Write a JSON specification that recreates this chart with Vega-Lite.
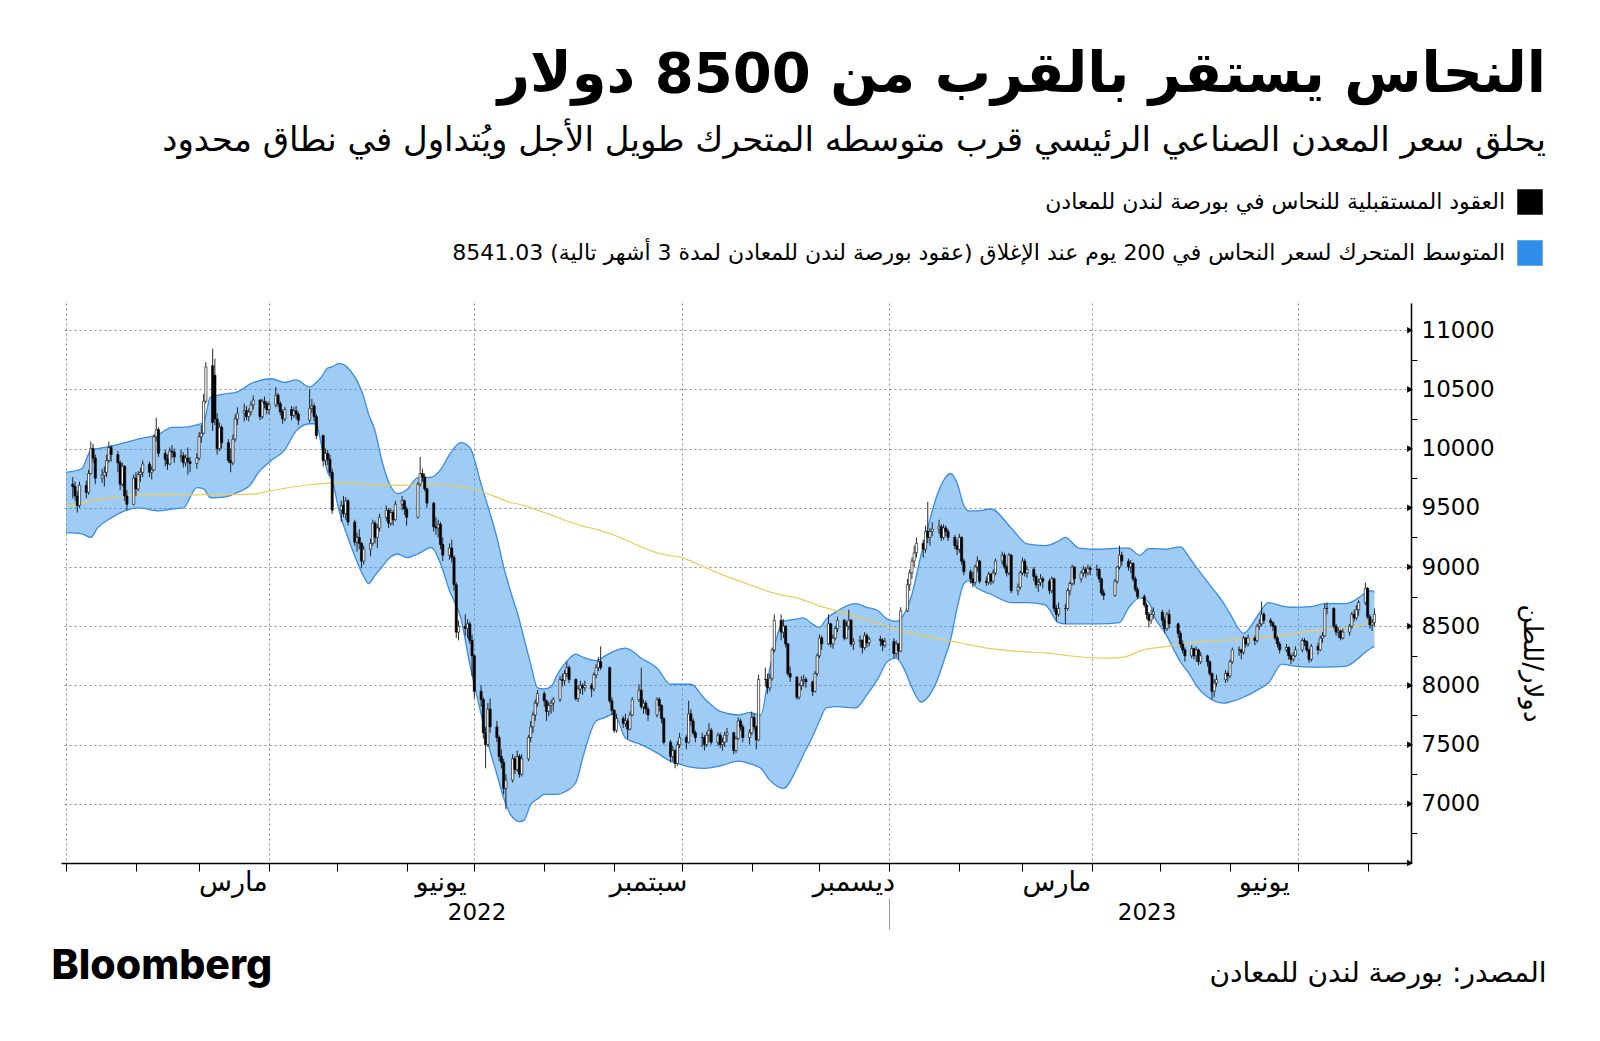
{
"$schema": "https://vega.github.io/schema/vega-lite/v6.json",
"width": 1350, "height": 560,
"autosize": {"type": "none"},
"padding": {"left": 61, "top": 303, "right": 189, "bottom": 178},
"background": "#ffffff",
"config": {"view": {"stroke": null}, "font": "DejaVu Sans"},
"title": {"text": "النحاس يستقر بالقرب من 8500 دولار", "subtitle": "يحلق سعر المعدن الصناعي الرئيسي قرب متوسطه المتحرك طويل الأجل ويُتداول في نطاق محدود", "anchor": "end", "frame": "group", "dx": 135, "offset": 30, "font": "DejaVu Sans", "fontSize": 56, "fontWeight": "bold", "color": "#000000", "subtitleFont": "DejaVu Sans", "subtitleFontSize": 34, "subtitleColor": "#000000", "subtitlePadding": 20},
"datasets": {
"bb": [
{"d":"2022-01-01","u":9800,"b":9290,"m":9520},
{"d":"2022-01-08","u":9830,"b":9280,"m":9535},
{"d":"2022-01-12","u":9985,"b":9250,"m":9560},
{"d":"2022-01-15","u":10000,"b":9330,"m":9570},
{"d":"2022-01-21","u":10020,"b":9415,"m":9585},
{"d":"2022-01-27","u":10050,"b":9475,"m":9600},
{"d":"2022-02-02","u":10080,"b":9500,"m":9605},
{"d":"2022-02-11","u":10120,"b":9475,"m":9610},
{"d":"2022-02-17","u":10180,"b":9490,"m":9610},
{"d":"2022-02-22","u":10180,"b":9500,"m":9610},
{"d":"2022-02-28","u":10200,"b":9670,"m":9610},
{"d":"2022-03-03","u":10220,"b":9660,"m":9611},
{"d":"2022-03-06","u":10435,"b":9585,"m":9612},
{"d":"2022-03-12","u":10460,"b":9590,"m":9612},
{"d":"2022-03-18","u":10480,"b":9630,"m":9613},
{"d":"2022-03-24","u":10550,"b":9700,"m":9615},
{"d":"2022-03-27","u":10570,"b":9790,"m":9620},
{"d":"2022-04-02","u":10590,"b":9900,"m":9645},
{"d":"2022-04-08","u":10560,"b":9990,"m":9665},
{"d":"2022-04-13","u":10580,"b":10150,"m":9680},
{"d":"2022-04-19","u":10520,"b":10210,"m":9695},
{"d":"2022-04-22","u":10560,"b":10210,"m":9700},
{"d":"2022-04-24","u":10600,"b":10050,"m":9705},
{"d":"2022-04-27","u":10680,"b":9800,"m":9708},
{"d":"2022-04-29","u":10690,"b":9730,"m":9710},
{"d":"2022-05-02","u":10720,"b":9480,"m":9710},
{"d":"2022-05-07","u":10660,"b":9195,"m":9706},
{"d":"2022-05-13","u":10435,"b":8920,"m":9700},
{"d":"2022-05-15","u":10300,"b":8860,"m":9698},
{"d":"2022-05-18","u":10150,"b":8930,"m":9696},
{"d":"2022-05-21","u":9900,"b":9000,"m":9694},
{"d":"2022-05-24","u":9720,"b":9070,"m":9692},
{"d":"2022-05-28","u":9620,"b":9110,"m":9690},
{"d":"2022-06-01","u":9650,"b":9080,"m":9692},
{"d":"2022-06-06","u":9755,"b":9110,"m":9696},
{"d":"2022-06-12","u":9760,"b":9165,"m":9700},
{"d":"2022-06-16","u":9820,"b":9030,"m":9695},
{"d":"2022-06-20","u":9950,"b":8800,"m":9688},
{"d":"2022-06-25","u":10050,"b":8570,"m":9678},
{"d":"2022-06-29","u":10010,"b":8180,"m":9665},
{"d":"2022-07-04","u":9700,"b":7760,"m":9640},
{"d":"2022-07-08","u":9450,"b":7445,"m":9610},
{"d":"2022-07-11","u":9250,"b":7250,"m":9590},
{"d":"2022-07-14","u":9000,"b":7050,"m":9565},
{"d":"2022-07-17","u":8800,"b":6910,"m":9545},
{"d":"2022-07-21","u":8550,"b":6850,"m":9530},
{"d":"2022-07-23","u":8400,"b":6860,"m":9520},
{"d":"2022-07-26","u":8180,"b":6995,"m":9500},
{"d":"2022-07-29","u":7980,"b":7040,"m":9480},
{"d":"2022-08-01","u":7970,"b":7080,"m":9460},
{"d":"2022-08-04","u":7990,"b":7080,"m":9440},
{"d":"2022-08-07","u":8100,"b":7080,"m":9420},
{"d":"2022-08-10","u":8180,"b":7100,"m":9395},
{"d":"2022-08-15","u":8265,"b":7180,"m":9365},
{"d":"2022-08-18","u":8240,"b":7385,"m":9345},
{"d":"2022-08-24","u":8210,"b":7700,"m":9320},
{"d":"2022-08-28","u":8250,"b":7730,"m":9295},
{"d":"2022-09-01","u":8290,"b":7760,"m":9270},
{"d":"2022-09-06","u":8315,"b":7555,"m":9230},
{"d":"2022-09-13","u":8230,"b":7500,"m":9170},
{"d":"2022-09-20","u":8145,"b":7430,"m":9120},
{"d":"2022-09-26","u":8010,"b":7360,"m":9095},
{"d":"2022-10-01","u":8010,"b":7330,"m":9080},
{"d":"2022-10-05","u":8010,"b":7310,"m":9050},
{"d":"2022-10-11","u":7890,"b":7300,"m":9000},
{"d":"2022-10-18","u":7780,"b":7320,"m":8940},
{"d":"2022-10-26","u":7750,"b":7360,"m":8885},
{"d":"2022-10-31","u":7770,"b":7340,"m":8850},
{"d":"2022-11-05","u":7750,"b":7300,"m":8815},
{"d":"2022-11-09","u":8145,"b":7200,"m":8790},
{"d":"2022-11-15","u":8540,"b":7130,"m":8760},
{"d":"2022-11-21","u":8560,"b":7300,"m":8740},
{"d":"2022-11-24","u":8570,"b":7420,"m":8720},
{"d":"2022-11-27","u":8530,"b":7530,"m":8700},
{"d":"2022-12-01","u":8490,"b":7700,"m":8670},
{"d":"2022-12-04","u":8560,"b":7810,"m":8655},
{"d":"2022-12-09","u":8630,"b":7820,"m":8630},
{"d":"2022-12-17","u":8690,"b":7810,"m":8580},
{"d":"2022-12-22","u":8660,"b":7920,"m":8550},
{"d":"2022-12-27","u":8630,"b":8060,"m":8525},
{"d":"2022-12-31","u":8560,"b":8200,"m":8500},
{"d":"2023-01-04","u":8540,"b":8230,"m":8470},
{"d":"2023-01-08","u":8620,"b":8120,"m":8450},
{"d":"2023-01-11","u":8770,"b":7980,"m":8440},
{"d":"2023-01-15","u":9100,"b":7860,"m":8425},
{"d":"2023-01-18","u":9330,"b":7900,"m":8410},
{"d":"2023-01-22","u":9600,"b":8035,"m":8395},
{"d":"2023-01-25","u":9730,"b":8200,"m":8385},
{"d":"2023-01-28","u":9790,"b":8375,"m":8375},
{"d":"2023-01-31","u":9710,"b":8650,"m":8365},
{"d":"2023-02-03","u":9520,"b":8860,"m":8352},
{"d":"2023-02-05","u":9475,"b":8885,"m":8345},
{"d":"2023-02-09","u":9475,"b":8820,"m":8330},
{"d":"2023-02-15","u":9490,"b":8770,"m":8310},
{"d":"2023-02-24","u":9330,"b":8700,"m":8292},
{"d":"2023-03-03","u":9195,"b":8700,"m":8283},
{"d":"2023-03-11","u":9180,"b":8680,"m":8275},
{"d":"2023-03-17","u":9220,"b":8530,"m":8262},
{"d":"2023-03-20","u":9250,"b":8520,"m":8255},
{"d":"2023-03-26","u":9160,"b":8520,"m":8242},
{"d":"2023-04-04","u":9150,"b":8520,"m":8230},
{"d":"2023-04-13","u":9160,"b":8530,"m":8235},
{"d":"2023-04-17","u":9160,"b":8655,"m":8250},
{"d":"2023-04-22","u":9100,"b":8740,"m":8290},
{"d":"2023-04-26","u":9155,"b":8700,"m":8310},
{"d":"2023-04-29","u":9155,"b":8560,"m":8318},
{"d":"2023-05-03","u":9150,"b":8450,"m":8325},
{"d":"2023-05-10","u":9170,"b":8200,"m":8350},
{"d":"2023-05-14","u":9080,"b":8095,"m":8358},
{"d":"2023-05-17","u":9000,"b":8000,"m":8365},
{"d":"2023-05-23","u":8850,"b":7890,"m":8372},
{"d":"2023-05-25","u":8800,"b":7870,"m":8375},
{"d":"2023-05-29","u":8700,"b":7850,"m":8380},
{"d":"2023-06-01","u":8605,"b":7860,"m":8384},
{"d":"2023-06-07","u":8440,"b":7900,"m":8388},
{"d":"2023-06-13","u":8580,"b":7960,"m":8398},
{"d":"2023-06-18","u":8700,"b":8020,"m":8410},
{"d":"2023-06-24","u":8670,"b":8180,"m":8422},
{"d":"2023-06-29","u":8660,"b":8165,"m":8435},
{"d":"2023-07-07","u":8665,"b":8155,"m":8460},
{"d":"2023-07-13","u":8690,"b":8155,"m":8470},
{"d":"2023-07-22","u":8690,"b":8160,"m":8485},
{"d":"2023-07-28","u":8740,"b":8230,"m":8505},
{"d":"2023-07-30","u":8770,"b":8265,"m":8515},
{"d":"2023-08-03","u":8800,"b":8320,"m":8535},
{"d":"2023-08-04","u":8785,"b":8330,"m":8541}
],
"px": [
{"d":"2022-01-04","o":9700,"h":9760,"l":9580,"c":9680},
{"d":"2022-01-05","o":9680,"h":9720,"l":9560,"c":9600},
{"d":"2022-01-06","o":9600,"h":9640,"l":9460,"c":9520},
{"d":"2022-01-07","o":9520,"h":9720,"l":9500,"c":9690},
{"d":"2022-01-10","o":9690,"h":9730,"l":9580,"c":9630},
{"d":"2022-01-11","o":9630,"h":9820,"l":9610,"c":9790},
{"d":"2022-01-12","o":9790,"h":10060,"l":9780,"c":10000},
{"d":"2022-01-13","o":10000,"h":10040,"l":9880,"c":9920},
{"d":"2022-01-14","o":9920,"h":9950,"l":9700,"c":9750},
{"d":"2022-01-17","o":9750,"h":9830,"l":9710,"c":9775},
{"d":"2022-01-18","o":9775,"h":9850,"l":9680,"c":9800},
{"d":"2022-01-19","o":9800,"h":9950,"l":9760,"c":9900},
{"d":"2022-01-20","o":9900,"h":10060,"l":9880,"c":10010},
{"d":"2022-01-21","o":10010,"h":10030,"l":9890,"c":9950},
{"d":"2022-01-24","o":9950,"h":9980,"l":9800,"c":9880},
{"d":"2022-01-25","o":9880,"h":9900,"l":9650,"c":9700},
{"d":"2022-01-26","o":9700,"h":9880,"l":9680,"c":9850},
{"d":"2022-01-27","o":9850,"h":9860,"l":9560,"c":9600},
{"d":"2022-01-28","o":9600,"h":9650,"l":9480,"c":9530},
{"d":"2022-01-31","o":9530,"h":9780,"l":9520,"c":9750},
{"d":"2022-02-01","o":9750,"h":9800,"l":9600,"c":9660},
{"d":"2022-02-02","o":9660,"h":9810,"l":9640,"c":9780},
{"d":"2022-02-03","o":9780,"h":9840,"l":9720,"c":9800},
{"d":"2022-02-04","o":9800,"h":9900,"l":9760,"c":9870},
{"d":"2022-02-07","o":9870,"h":9890,"l":9760,"c":9800},
{"d":"2022-02-08","o":9800,"h":9850,"l":9740,"c":9820},
{"d":"2022-02-09","o":9820,"h":10120,"l":9810,"c":10100},
{"d":"2022-02-10","o":10100,"h":10260,"l":10060,"c":10160},
{"d":"2022-02-11","o":10160,"h":10180,"l":9930,"c":9960},
{"d":"2022-02-14","o":9960,"h":9990,"l":9850,"c":9910},
{"d":"2022-02-15","o":9910,"h":9950,"l":9820,"c":9870},
{"d":"2022-02-16","o":9870,"h":10010,"l":9860,"c":9980},
{"d":"2022-02-17","o":9980,"h":10030,"l":9920,"c":9970},
{"d":"2022-02-18","o":9970,"h":10000,"l":9880,"c":9930},
{"d":"2022-02-21","o":9930,"h":9990,"l":9890,"c":9940},
{"d":"2022-02-22","o":9940,"h":9970,"l":9840,"c":9880},
{"d":"2022-02-23","o":9880,"h":9950,"l":9850,"c":9920},
{"d":"2022-02-24","o":9920,"h":10010,"l":9780,"c":9890},
{"d":"2022-02-25","o":9890,"h":9930,"l":9800,"c":9875},
{"d":"2022-02-28","o":9875,"h":9960,"l":9830,"c":9920},
{"d":"2022-03-01","o":9920,"h":10140,"l":9900,"c":10100},
{"d":"2022-03-02","o":10100,"h":10200,"l":10050,"c":10130},
{"d":"2022-03-03","o":10130,"h":10460,"l":10120,"c":10400},
{"d":"2022-03-04","o":10400,"h":10730,"l":10380,"c":10690},
{"d":"2022-03-07","o":10700,"h":10845,"l":10150,"c":10220},
{"d":"2022-03-08","o":10620,"h":10760,"l":10200,"c":10250},
{"d":"2022-03-09","o":10250,"h":10300,"l":9950,"c":10000},
{"d":"2022-03-10","o":10000,"h":10220,"l":9980,"c":10180},
{"d":"2022-03-11","o":10180,"h":10200,"l":10000,"c":10050},
{"d":"2022-03-14","o":10050,"h":10080,"l":9880,"c":9900},
{"d":"2022-03-15","o":9900,"h":10000,"l":9800,"c":9880},
{"d":"2022-03-16","o":9880,"h":10120,"l":9860,"c":10080},
{"d":"2022-03-17","o":10080,"h":10290,"l":10060,"c":10250},
{"d":"2022-03-18","o":10250,"h":10350,"l":10200,"c":10300},
{"d":"2022-03-21","o":10300,"h":10380,"l":10230,"c":10320},
{"d":"2022-03-22","o":10320,"h":10360,"l":10240,"c":10270},
{"d":"2022-03-23","o":10270,"h":10340,"l":10230,"c":10310},
{"d":"2022-03-24","o":10310,"h":10400,"l":10280,"c":10370},
{"d":"2022-03-25","o":10370,"h":10450,"l":10330,"c":10410},
{"d":"2022-03-28","o":10410,"h":10420,"l":10240,"c":10270},
{"d":"2022-03-29","o":10270,"h":10420,"l":10250,"c":10400},
{"d":"2022-03-30","o":10400,"h":10440,"l":10340,"c":10380},
{"d":"2022-03-31","o":10380,"h":10400,"l":10290,"c":10330},
{"d":"2022-04-01","o":10330,"h":10400,"l":10290,"c":10370},
{"d":"2022-04-04","o":10370,"h":10520,"l":10350,"c":10450},
{"d":"2022-04-05","o":10450,"h":10470,"l":10350,"c":10380},
{"d":"2022-04-06","o":10380,"h":10400,"l":10280,"c":10310},
{"d":"2022-04-07","o":10310,"h":10330,"l":10210,"c":10250},
{"d":"2022-04-08","o":10250,"h":10350,"l":10230,"c":10330},
{"d":"2022-04-11","o":10330,"h":10360,"l":10240,"c":10280},
{"d":"2022-04-12","o":10280,"h":10350,"l":10260,"c":10320},
{"d":"2022-04-13","o":10320,"h":10360,"l":10250,"c":10290},
{"d":"2022-04-14","o":10290,"h":10310,"l":10200,"c":10240},
{"d":"2022-04-19","o":10240,"h":10500,"l":10220,"c":10340},
{"d":"2022-04-20","o":10340,"h":10420,"l":10300,"c":10360},
{"d":"2022-04-21","o":10360,"h":10380,"l":10230,"c":10270},
{"d":"2022-04-22","o":10270,"h":10290,"l":10080,"c":10110},
{"d":"2022-04-25","o":10110,"h":10120,"l":9850,"c":9900},
{"d":"2022-04-26","o":9900,"h":10000,"l":9860,"c":9960},
{"d":"2022-04-27","o":9960,"h":9990,"l":9860,"c":9910},
{"d":"2022-04-28","o":9910,"h":9950,"l":9770,"c":9800},
{"d":"2022-04-29","o":9800,"h":9830,"l":9450,"c":9480},
{"d":"2022-05-03","o":9480,"h":9560,"l":9380,"c":9520},
{"d":"2022-05-04","o":9520,"h":9600,"l":9420,"c":9450},
{"d":"2022-05-05","o":9450,"h":9590,"l":9400,"c":9560},
{"d":"2022-05-06","o":9560,"h":9570,"l":9350,"c":9380},
{"d":"2022-05-09","o":9380,"h":9400,"l":9180,"c":9210},
{"d":"2022-05-10","o":9210,"h":9290,"l":9130,"c":9250},
{"d":"2022-05-11","o":9250,"h":9320,"l":9150,"c":9200},
{"d":"2022-05-12","o":9200,"h":9210,"l":8990,"c":9050},
{"d":"2022-05-13","o":9050,"h":9180,"l":9020,"c":9150},
{"d":"2022-05-16","o":9150,"h":9240,"l":9090,"c":9200},
{"d":"2022-05-17","o":9200,"h":9400,"l":9180,"c":9370},
{"d":"2022-05-18","o":9370,"h":9390,"l":9200,"c":9250},
{"d":"2022-05-19","o":9250,"h":9360,"l":9160,"c":9330},
{"d":"2022-05-20","o":9330,"h":9450,"l":9300,"c":9420},
{"d":"2022-05-23","o":9420,"h":9520,"l":9390,"c":9480},
{"d":"2022-05-24","o":9480,"h":9500,"l":9330,"c":9370},
{"d":"2022-05-25","o":9370,"h":9490,"l":9350,"c":9460},
{"d":"2022-05-26","o":9460,"h":9480,"l":9350,"c":9400},
{"d":"2022-05-27","o":9400,"h":9560,"l":9390,"c":9530},
{"d":"2022-05-30","o":9530,"h":9600,"l":9480,"c":9560},
{"d":"2022-05-31","o":9560,"h":9570,"l":9440,"c":9490},
{"d":"2022-06-01","o":9490,"h":9510,"l":9350,"c":9420},
{"d":"2022-06-06","o":9420,"h":9720,"l":9410,"c":9700},
{"d":"2022-06-07","o":9700,"h":9930,"l":9680,"c":9790},
{"d":"2022-06-08","o":9790,"h":9830,"l":9720,"c":9760},
{"d":"2022-06-09","o":9760,"h":9790,"l":9640,"c":9660},
{"d":"2022-06-10","o":9660,"h":9670,"l":9500,"c":9540},
{"d":"2022-06-13","o":9540,"h":9550,"l":9300,"c":9340},
{"d":"2022-06-14","o":9340,"h":9420,"l":9270,"c":9330},
{"d":"2022-06-15","o":9330,"h":9400,"l":9250,"c":9360},
{"d":"2022-06-16","o":9360,"h":9380,"l":9150,"c":9190},
{"d":"2022-06-17","o":9190,"h":9250,"l":9050,"c":9100},
{"d":"2022-06-20","o":9100,"h":9200,"l":9060,"c":9160},
{"d":"2022-06-21","o":9160,"h":9230,"l":9040,"c":9080},
{"d":"2022-06-22","o":9080,"h":9100,"l":8800,"c":8850},
{"d":"2022-06-23","o":8850,"h":8870,"l":8400,"c":8450},
{"d":"2022-06-24","o":8450,"h":8550,"l":8380,"c":8500},
{"d":"2022-06-27","o":8500,"h":8600,"l":8420,"c":8480},
{"d":"2022-06-28","o":8480,"h":8560,"l":8400,"c":8520},
{"d":"2022-06-29","o":8520,"h":8540,"l":8350,"c":8380},
{"d":"2022-06-30","o":8380,"h":8430,"l":8080,"c":8250},
{"d":"2022-07-01","o":8250,"h":8260,"l":7890,"c":7950},
{"d":"2022-07-04","o":7950,"h":8000,"l":7820,"c":7880},
{"d":"2022-07-05","o":7880,"h":7900,"l":7550,"c":7600},
{"d":"2022-07-06","o":7600,"h":7650,"l":7300,"c":7500},
{"d":"2022-07-07","o":7500,"h":7850,"l":7480,"c":7800},
{"d":"2022-07-08","o":7800,"h":7890,"l":7600,"c":7650},
{"d":"2022-07-11","o":7650,"h":7700,"l":7520,"c":7560},
{"d":"2022-07-12","o":7560,"h":7580,"l":7360,"c":7400},
{"d":"2022-07-13","o":7400,"h":7460,"l":7300,"c":7350},
{"d":"2022-07-14","o":7350,"h":7380,"l":7080,"c":7130},
{"d":"2022-07-15","o":7130,"h":7250,"l":6955,"c":7200},
{"d":"2022-07-18","o":7200,"h":7420,"l":7180,"c":7380},
{"d":"2022-07-19","o":7380,"h":7400,"l":7250,"c":7290},
{"d":"2022-07-20","o":7290,"h":7450,"l":7270,"c":7400},
{"d":"2022-07-21","o":7400,"h":7420,"l":7220,"c":7250},
{"d":"2022-07-22","o":7250,"h":7420,"l":7230,"c":7380},
{"d":"2022-07-25","o":7380,"h":7580,"l":7360,"c":7560},
{"d":"2022-07-26","o":7560,"h":7700,"l":7520,"c":7650},
{"d":"2022-07-27","o":7650,"h":7780,"l":7600,"c":7750},
{"d":"2022-07-28","o":7750,"h":7880,"l":7700,"c":7850},
{"d":"2022-07-29","o":7850,"h":7960,"l":7820,"c":7930},
{"d":"2022-08-01","o":7930,"h":7950,"l":7820,"c":7870},
{"d":"2022-08-02","o":7870,"h":7880,"l":7700,"c":7780},
{"d":"2022-08-03","o":7780,"h":7860,"l":7740,"c":7830},
{"d":"2022-08-04","o":7830,"h":7880,"l":7760,"c":7850},
{"d":"2022-08-05","o":7850,"h":7900,"l":7780,"c":7880},
{"d":"2022-08-08","o":7880,"h":8080,"l":7860,"c":8050},
{"d":"2022-08-09","o":8050,"h":8100,"l":7990,"c":8040},
{"d":"2022-08-10","o":8040,"h":8130,"l":8000,"c":8100},
{"d":"2022-08-11","o":8100,"h":8200,"l":8070,"c":8150},
{"d":"2022-08-12","o":8150,"h":8170,"l":8020,"c":8050},
{"d":"2022-08-15","o":8050,"h":8060,"l":7870,"c":7890},
{"d":"2022-08-16","o":7890,"h":8000,"l":7860,"c":7970},
{"d":"2022-08-17","o":7970,"h":8040,"l":7930,"c":8000},
{"d":"2022-08-18","o":8000,"h":8020,"l":7920,"c":7980},
{"d":"2022-08-19","o":7980,"h":8040,"l":7950,"c":8000},
{"d":"2022-08-22","o":8000,"h":8020,"l":7900,"c":7970},
{"d":"2022-08-23","o":7970,"h":8110,"l":7950,"c":8090},
{"d":"2022-08-24","o":8090,"h":8180,"l":8060,"c":8150},
{"d":"2022-08-25","o":8150,"h":8240,"l":8120,"c":8200},
{"d":"2022-08-26","o":8200,"h":8330,"l":8130,"c":8150},
{"d":"2022-08-30","o":8150,"h":8160,"l":7850,"c":7870},
{"d":"2022-08-31","o":7870,"h":7900,"l":7750,"c":7790},
{"d":"2022-09-01","o":7790,"h":7800,"l":7600,"c":7620},
{"d":"2022-09-02","o":7620,"h":7760,"l":7600,"c":7720},
{"d":"2022-09-05","o":7720,"h":7740,"l":7640,"c":7680},
{"d":"2022-09-06","o":7680,"h":7760,"l":7650,"c":7700},
{"d":"2022-09-07","o":7700,"h":7720,"l":7550,"c":7630},
{"d":"2022-09-08","o":7630,"h":7780,"l":7620,"c":7750},
{"d":"2022-09-09","o":7750,"h":7900,"l":7740,"c":7880},
{"d":"2022-09-12","o":7880,"h":8010,"l":7860,"c":7960},
{"d":"2022-09-13","o":7960,"h":8150,"l":7800,"c":7820},
{"d":"2022-09-14","o":7820,"h":7880,"l":7760,"c":7850},
{"d":"2022-09-15","o":7850,"h":7870,"l":7760,"c":7800},
{"d":"2022-09-16","o":7800,"h":7820,"l":7700,"c":7750},
{"d":"2022-09-20","o":7750,"h":7900,"l":7730,"c":7880},
{"d":"2022-09-21","o":7880,"h":7900,"l":7780,"c":7830},
{"d":"2022-09-22","o":7830,"h":7840,"l":7680,"c":7720},
{"d":"2022-09-23","o":7720,"h":7730,"l":7500,"c":7520},
{"d":"2022-09-26","o":7520,"h":7540,"l":7350,"c":7400},
{"d":"2022-09-27","o":7400,"h":7490,"l":7360,"c":7450},
{"d":"2022-09-28","o":7450,"h":7460,"l":7300,"c":7340},
{"d":"2022-09-29","o":7340,"h":7530,"l":7320,"c":7500},
{"d":"2022-09-30","o":7500,"h":7600,"l":7470,"c":7560},
{"d":"2022-10-03","o":7560,"h":7580,"l":7460,"c":7520},
{"d":"2022-10-04","o":7520,"h":7870,"l":7510,"c":7760},
{"d":"2022-10-05","o":7760,"h":7800,"l":7660,"c":7700},
{"d":"2022-10-06","o":7700,"h":7720,"l":7580,"c":7600},
{"d":"2022-10-07","o":7600,"h":7620,"l":7520,"c":7560},
{"d":"2022-10-10","o":7560,"h":7600,"l":7480,"c":7560},
{"d":"2022-10-11","o":7560,"h":7580,"l":7450,"c":7500},
{"d":"2022-10-12","o":7500,"h":7610,"l":7480,"c":7580},
{"d":"2022-10-13","o":7580,"h":7680,"l":7520,"c":7620},
{"d":"2022-10-14","o":7620,"h":7640,"l":7500,"c":7520},
{"d":"2022-10-17","o":7520,"h":7600,"l":7490,"c":7580},
{"d":"2022-10-18","o":7580,"h":7600,"l":7470,"c":7500},
{"d":"2022-10-19","o":7500,"h":7560,"l":7450,"c":7520},
{"d":"2022-10-20","o":7520,"h":7610,"l":7480,"c":7580},
{"d":"2022-10-21","o":7580,"h":7640,"l":7520,"c":7600},
{"d":"2022-10-24","o":7600,"h":7610,"l":7420,"c":7450},
{"d":"2022-10-25","o":7450,"h":7570,"l":7430,"c":7550},
{"d":"2022-10-26","o":7550,"h":7730,"l":7540,"c":7700},
{"d":"2022-10-27","o":7700,"h":7720,"l":7620,"c":7650},
{"d":"2022-10-28","o":7650,"h":7670,"l":7520,"c":7560},
{"d":"2022-10-31","o":7560,"h":7630,"l":7500,"c":7600},
{"d":"2022-11-01","o":7600,"h":7780,"l":7580,"c":7730},
{"d":"2022-11-02","o":7730,"h":7760,"l":7620,"c":7650},
{"d":"2022-11-03","o":7650,"h":7660,"l":7460,"c":7540},
{"d":"2022-11-04","o":7540,"h":8090,"l":7530,"c":8050},
{"d":"2022-11-07","o":8050,"h":8150,"l":7990,"c":8050},
{"d":"2022-11-08","o":8050,"h":8100,"l":7930,"c":7980},
{"d":"2022-11-09","o":7980,"h":8100,"l":7950,"c":8060},
{"d":"2022-11-10","o":8060,"h":8320,"l":8040,"c":8300},
{"d":"2022-11-11","o":8300,"h":8600,"l":8280,"c":8550},
{"d":"2022-11-14","o":8550,"h":8600,"l":8380,"c":8450},
{"d":"2022-11-15","o":8450,"h":8560,"l":8400,"c":8500},
{"d":"2022-11-16","o":8500,"h":8510,"l":8320,"c":8350},
{"d":"2022-11-17","o":8350,"h":8360,"l":8080,"c":8100},
{"d":"2022-11-18","o":8100,"h":8160,"l":8030,"c":8070},
{"d":"2022-11-21","o":8070,"h":8080,"l":7880,"c":7900},
{"d":"2022-11-22","o":7900,"h":8020,"l":7880,"c":8000},
{"d":"2022-11-23","o":8000,"h":8080,"l":7960,"c":8040},
{"d":"2022-11-24","o":8040,"h":8090,"l":7990,"c":8050},
{"d":"2022-11-25","o":8050,"h":8070,"l":7980,"c":8030},
{"d":"2022-11-28","o":8030,"h":8040,"l":7910,"c":7950},
{"d":"2022-11-29","o":7950,"h":8120,"l":7940,"c":8100},
{"d":"2022-11-30","o":8100,"h":8270,"l":8080,"c":8250},
{"d":"2022-12-01","o":8250,"h":8430,"l":8230,"c":8400},
{"d":"2022-12-02","o":8400,"h":8420,"l":8300,"c":8350},
{"d":"2022-12-05","o":8350,"h":8600,"l":8340,"c":8520},
{"d":"2022-12-06","o":8520,"h":8530,"l":8320,"c":8350},
{"d":"2022-12-07","o":8350,"h":8430,"l":8310,"c":8400},
{"d":"2022-12-08","o":8400,"h":8500,"l":8380,"c":8480},
{"d":"2022-12-09","o":8480,"h":8580,"l":8450,"c":8550},
{"d":"2022-12-12","o":8550,"h":8560,"l":8380,"c":8400},
{"d":"2022-12-13","o":8400,"h":8540,"l":8390,"c":8500},
{"d":"2022-12-14","o":8500,"h":8640,"l":8470,"c":8550},
{"d":"2022-12-15","o":8550,"h":8560,"l":8330,"c":8350},
{"d":"2022-12-16","o":8350,"h":8400,"l":8300,"c":8370},
{"d":"2022-12-19","o":8370,"h":8420,"l":8320,"c":8380},
{"d":"2022-12-20","o":8380,"h":8390,"l":8270,"c":8320},
{"d":"2022-12-21","o":8320,"h":8450,"l":8300,"c":8420},
{"d":"2022-12-22","o":8420,"h":8440,"l":8320,"c":8360},
{"d":"2022-12-23","o":8360,"h":8410,"l":8330,"c":8390},
{"d":"2022-12-28","o":8390,"h":8420,"l":8330,"c":8380},
{"d":"2022-12-29","o":8380,"h":8400,"l":8290,"c":8340},
{"d":"2022-12-30","o":8340,"h":8400,"l":8320,"c":8370},
{"d":"2023-01-03","o":8370,"h":8400,"l":8230,"c":8270},
{"d":"2023-01-04","o":8270,"h":8380,"l":8240,"c":8350},
{"d":"2023-01-05","o":8350,"h":8360,"l":8220,"c":8290},
{"d":"2023-01-06","o":8290,"h":8660,"l":8280,"c":8630},
{"d":"2023-01-09","o":8630,"h":8900,"l":8620,"c":8850},
{"d":"2023-01-10","o":8850,"h":8980,"l":8800,"c":8950},
{"d":"2023-01-11","o":8950,"h":9080,"l":8900,"c":9050},
{"d":"2023-01-12","o":9050,"h":9180,"l":9000,"c":9120},
{"d":"2023-01-13","o":9120,"h":9250,"l":9080,"c":9200},
{"d":"2023-01-16","o":9200,"h":9230,"l":9080,"c":9150},
{"d":"2023-01-17","o":9150,"h":9350,"l":9120,"c":9300},
{"d":"2023-01-18","o":9300,"h":9550,"l":9200,"c":9250},
{"d":"2023-01-19","o":9250,"h":9330,"l":9180,"c":9300},
{"d":"2023-01-20","o":9300,"h":9380,"l":9260,"c":9320},
{"d":"2023-01-23","o":9320,"h":9400,"l":9280,"c":9340},
{"d":"2023-01-24","o":9340,"h":9360,"l":9220,"c":9250},
{"d":"2023-01-25","o":9250,"h":9360,"l":9230,"c":9330},
{"d":"2023-01-26","o":9330,"h":9350,"l":9260,"c":9300},
{"d":"2023-01-27","o":9300,"h":9320,"l":9220,"c":9250},
{"d":"2023-01-30","o":9250,"h":9270,"l":9150,"c":9180},
{"d":"2023-01-31","o":9180,"h":9230,"l":9100,"c":9150},
{"d":"2023-02-01","o":9150,"h":9280,"l":9120,"c":9250},
{"d":"2023-02-02","o":9250,"h":9260,"l":9020,"c":9050},
{"d":"2023-02-03","o":9050,"h":9070,"l":8930,"c":8960},
{"d":"2023-02-06","o":8960,"h":8980,"l":8860,"c":8900},
{"d":"2023-02-07","o":8900,"h":8960,"l":8830,"c":8870},
{"d":"2023-02-08","o":8870,"h":9020,"l":8850,"c":9000},
{"d":"2023-02-09","o":9000,"h":9090,"l":8960,"c":9050},
{"d":"2023-02-10","o":9050,"h":9060,"l":8860,"c":8880},
{"d":"2023-02-13","o":8880,"h":8920,"l":8840,"c":8870},
{"d":"2023-02-14","o":8870,"h":8960,"l":8850,"c":8940},
{"d":"2023-02-15","o":8940,"h":8950,"l":8850,"c":8880},
{"d":"2023-02-16","o":8880,"h":8980,"l":8860,"c":8950},
{"d":"2023-02-17","o":8950,"h":9070,"l":8930,"c":9050},
{"d":"2023-02-20","o":9050,"h":9130,"l":9020,"c":9100},
{"d":"2023-02-21","o":9100,"h":9120,"l":8980,"c":9000},
{"d":"2023-02-22","o":9000,"h":9020,"l":8920,"c":8950},
{"d":"2023-02-23","o":8950,"h":9120,"l":8930,"c":9100},
{"d":"2023-02-24","o":9100,"h":9110,"l":8780,"c":8800},
{"d":"2023-02-27","o":8800,"h":8860,"l":8760,"c":8830},
{"d":"2023-02-28","o":8830,"h":8970,"l":8810,"c":8950},
{"d":"2023-03-01","o":8950,"h":9080,"l":8930,"c":9050},
{"d":"2023-03-02","o":9050,"h":9070,"l":8920,"c":8950},
{"d":"2023-03-03","o":8950,"h":9010,"l":8910,"c":8980},
{"d":"2023-03-06","o":8980,"h":9000,"l":8880,"c":8920},
{"d":"2023-03-07","o":8920,"h":8940,"l":8820,"c":8850},
{"d":"2023-03-08","o":8850,"h":8900,"l":8790,"c":8870},
{"d":"2023-03-09","o":8870,"h":8940,"l":8840,"c":8900},
{"d":"2023-03-10","o":8900,"h":8920,"l":8820,"c":8880},
{"d":"2023-03-13","o":8880,"h":8900,"l":8770,"c":8800},
{"d":"2023-03-14","o":8800,"h":8920,"l":8780,"c":8900},
{"d":"2023-03-15","o":8900,"h":8910,"l":8620,"c":8650},
{"d":"2023-03-16","o":8650,"h":8680,"l":8540,"c":8600},
{"d":"2023-03-17","o":8600,"h":8700,"l":8580,"c":8650},
{"d":"2023-03-20","o":8650,"h":8690,"l":8520,"c":8650},
{"d":"2023-03-21","o":8650,"h":8820,"l":8630,"c":8800},
{"d":"2023-03-22","o":8800,"h":8880,"l":8760,"c":8860},
{"d":"2023-03-23","o":8860,"h":9020,"l":8840,"c":9000},
{"d":"2023-03-24","o":9000,"h":9010,"l":8850,"c":8900},
{"d":"2023-03-27","o":8900,"h":8970,"l":8870,"c":8950},
{"d":"2023-03-28","o":8950,"h":9010,"l":8920,"c":8980},
{"d":"2023-03-29","o":8980,"h":9000,"l":8910,"c":8950},
{"d":"2023-03-30","o":8950,"h":9020,"l":8930,"c":8990},
{"d":"2023-03-31","o":8990,"h":9010,"l":8930,"c":8980},
{"d":"2023-04-03","o":8980,"h":9020,"l":8920,"c":8980},
{"d":"2023-04-04","o":8980,"h":8990,"l":8870,"c":8900},
{"d":"2023-04-05","o":8900,"h":8910,"l":8760,"c":8780},
{"d":"2023-04-06","o":8780,"h":8810,"l":8720,"c":8760},
{"d":"2023-04-11","o":8760,"h":8900,"l":8750,"c":8880},
{"d":"2023-04-12","o":8880,"h":9010,"l":8860,"c":9000},
{"d":"2023-04-13","o":9000,"h":9180,"l":8980,"c":9100},
{"d":"2023-04-14","o":9100,"h":9130,"l":9010,"c":9050},
{"d":"2023-04-17","o":9050,"h":9070,"l":8970,"c":9000},
{"d":"2023-04-18","o":9000,"h":9060,"l":8950,"c":9030},
{"d":"2023-04-19","o":9030,"h":9040,"l":8880,"c":8900},
{"d":"2023-04-20","o":8900,"h":8920,"l":8790,"c":8810},
{"d":"2023-04-21","o":8810,"h":8830,"l":8730,"c":8750},
{"d":"2023-04-24","o":8750,"h":8770,"l":8660,"c":8680},
{"d":"2023-04-25","o":8680,"h":8700,"l":8560,"c":8600},
{"d":"2023-04-26","o":8600,"h":8620,"l":8490,"c":8550},
{"d":"2023-04-27","o":8550,"h":8640,"l":8520,"c":8600},
{"d":"2023-04-28","o":8600,"h":8660,"l":8560,"c":8620},
{"d":"2023-05-02","o":8620,"h":8640,"l":8500,"c":8550},
{"d":"2023-05-03","o":8550,"h":8580,"l":8440,"c":8480},
{"d":"2023-05-04","o":8480,"h":8620,"l":8460,"c":8600},
{"d":"2023-05-05","o":8600,"h":8640,"l":8480,"c":8520},
{"d":"2023-05-09","o":8520,"h":8530,"l":8400,"c":8440},
{"d":"2023-05-10","o":8440,"h":8460,"l":8320,"c":8350},
{"d":"2023-05-11","o":8350,"h":8380,"l":8270,"c":8300},
{"d":"2023-05-12","o":8300,"h":8320,"l":8200,"c":8250},
{"d":"2023-05-15","o":8250,"h":8340,"l":8230,"c":8310},
{"d":"2023-05-16","o":8310,"h":8320,"l":8220,"c":8250},
{"d":"2023-05-17","o":8250,"h":8330,"l":8200,"c":8300},
{"d":"2023-05-18","o":8300,"h":8310,"l":8170,"c":8200},
{"d":"2023-05-19","o":8200,"h":8280,"l":8180,"c":8250},
{"d":"2023-05-22","o":8250,"h":8260,"l":8160,"c":8200},
{"d":"2023-05-23","o":8200,"h":8210,"l":8080,"c":8100},
{"d":"2023-05-24","o":8100,"h":8110,"l":7880,"c":7950},
{"d":"2023-05-25","o":7950,"h":8050,"l":7900,"c":8020},
{"d":"2023-05-26","o":8020,"h":8090,"l":7990,"c":8050},
{"d":"2023-05-30","o":8050,"h":8130,"l":8020,"c":8100},
{"d":"2023-05-31","o":8100,"h":8120,"l":8030,"c":8080},
{"d":"2023-06-01","o":8080,"h":8220,"l":8060,"c":8200},
{"d":"2023-06-02","o":8200,"h":8320,"l":8180,"c":8300},
{"d":"2023-06-05","o":8300,"h":8330,"l":8250,"c":8300},
{"d":"2023-06-06","o":8300,"h":8310,"l":8220,"c":8280},
{"d":"2023-06-07","o":8280,"h":8420,"l":8260,"c":8400},
{"d":"2023-06-08","o":8400,"h":8410,"l":8320,"c":8350},
{"d":"2023-06-09","o":8350,"h":8430,"l":8330,"c":8400},
{"d":"2023-06-12","o":8400,"h":8420,"l":8340,"c":8380},
{"d":"2023-06-13","o":8380,"h":8520,"l":8360,"c":8500},
{"d":"2023-06-14","o":8500,"h":8560,"l":8470,"c":8520},
{"d":"2023-06-15","o":8520,"h":8710,"l":8500,"c":8600},
{"d":"2023-06-16","o":8600,"h":8620,"l":8520,"c":8550},
{"d":"2023-06-19","o":8550,"h":8570,"l":8500,"c":8530},
{"d":"2023-06-20","o":8530,"h":8540,"l":8460,"c":8500},
{"d":"2023-06-21","o":8500,"h":8510,"l":8380,"c":8400},
{"d":"2023-06-22","o":8400,"h":8420,"l":8320,"c":8350},
{"d":"2023-06-23","o":8350,"h":8370,"l":8270,"c":8300},
{"d":"2023-06-26","o":8300,"h":8350,"l":8280,"c":8320},
{"d":"2023-06-27","o":8320,"h":8330,"l":8220,"c":8250},
{"d":"2023-06-28","o":8250,"h":8270,"l":8180,"c":8220},
{"d":"2023-06-29","o":8220,"h":8280,"l":8200,"c":8250},
{"d":"2023-06-30","o":8250,"h":8330,"l":8240,"c":8300},
{"d":"2023-07-03","o":8300,"h":8400,"l":8280,"c":8380},
{"d":"2023-07-04","o":8380,"h":8400,"l":8330,"c":8370},
{"d":"2023-07-05","o":8370,"h":8380,"l":8280,"c":8300},
{"d":"2023-07-06","o":8300,"h":8310,"l":8190,"c":8220},
{"d":"2023-07-07","o":8220,"h":8350,"l":8200,"c":8330},
{"d":"2023-07-10","o":8330,"h":8360,"l":8260,"c":8300},
{"d":"2023-07-11","o":8300,"h":8420,"l":8290,"c":8400},
{"d":"2023-07-12","o":8400,"h":8450,"l":8360,"c":8420},
{"d":"2023-07-13","o":8420,"h":8690,"l":8410,"c":8650},
{"d":"2023-07-14","o":8650,"h":8700,"l":8600,"c":8650},
{"d":"2023-07-17","o":8650,"h":8660,"l":8480,"c":8500},
{"d":"2023-07-18","o":8500,"h":8520,"l":8420,"c":8450},
{"d":"2023-07-19","o":8450,"h":8490,"l":8400,"c":8460},
{"d":"2023-07-20","o":8460,"h":8470,"l":8380,"c":8400},
{"d":"2023-07-21","o":8400,"h":8480,"l":8390,"c":8450},
{"d":"2023-07-24","o":8450,"h":8520,"l":8420,"c":8500},
{"d":"2023-07-25","o":8500,"h":8620,"l":8480,"c":8600},
{"d":"2023-07-26","o":8600,"h":8640,"l":8540,"c":8570},
{"d":"2023-07-27","o":8570,"h":8680,"l":8550,"c":8640},
{"d":"2023-07-28","o":8640,"h":8720,"l":8590,"c":8700},
{"d":"2023-07-31","o":8700,"h":8870,"l":8680,"c":8820},
{"d":"2023-08-01","o":8820,"h":8830,"l":8560,"c":8580},
{"d":"2023-08-02","o":8580,"h":8600,"l":8480,"c":8510},
{"d":"2023-08-03","o":8510,"h":8560,"l":8460,"c":8530},
{"d":"2023-08-04","o":8530,"h":8650,"l":8500,"c":8600}
]
},
"resolve": {"axis": {"x": "independent", "y": "independent"}},
"layer": [
{"data": {"name": "bb"},
 "mark": {"type": "area", "interpolate": "monotone", "opacity": 0.46},
 "encoding": {
  "x": {"field": "d", "type": "temporal", "scale": {"domain": [{"year": 2022, "month": 1, "date": 1}, {"year": 2023, "month": 8, "date": 18}]},
   "axis": {"orient": "bottom", "values": [{"year":2022,"month":1,"date":1},{"year":2022,"month":2,"date":1},{"year":2022,"month":3,"date":1},{"year":2022,"month":4,"date":1},{"year":2022,"month":5,"date":1},{"year":2022,"month":6,"date":1},{"year":2022,"month":7,"date":1},{"year":2022,"month":8,"date":1},{"year":2022,"month":9,"date":1},{"year":2022,"month":10,"date":1},{"year":2022,"month":11,"date":1},{"year":2022,"month":12,"date":1},{"year":2023,"month":1,"date":1},{"year":2023,"month":2,"date":1},{"year":2023,"month":3,"date":1},{"year":2023,"month":4,"date":1},{"year":2023,"month":5,"date":1},{"year":2023,"month":6,"date":1},{"year":2023,"month":7,"date":1},{"year":2023,"month":8,"date":1}],
    "labels": false, "ticks": true, "tickSize": 8, "tickColor": "#000000", "tickWidth": 1, "domain": true, "domainColor": "#000000", "domainWidth": 1.5, "grid": false,
    "title": "Bloomberg", "titleX": -10, "titleY": 103, "titleAlign": "left", "titleBaseline": "middle", "titleFont": "Inter", "titleFontSize": 41, "titleFontWeight": 800, "titleColor": "#000000"}},
  "y": {"field": "u", "type": "quantitative", "scale": {"domain": [6500, 11230], "nice": false, "zero": false},
   "axis": {"orient": "right", "values": [7000, 7500, 8000, 8500, 9000, 9500, 10000, 10500, 11000], "format": "d", "labelFont": "DejaVu Sans", "labelFontSize": 23, "labelColor": "#000000", "ticks": false, "labelPadding": 10, "labelBaseline": "middle", "domain": true, "domainColor": "#000000", "domainWidth": 1.5, "grid": true, "gridDash": [2, 3], "gridColor": "#8c8c8c", "gridWidth": 1,
    "title": "دولار/للطن", "titleAngle": 90, "titleX": 120, "titleY": 360, "titleAlign": "center", "titleBaseline": "middle", "titleFont": "DejaVu Sans", "titleFontSize": 26, "titleFontWeight": "normal", "titleColor": "#000000"}},
  "y2": {"field": "b"},
  "color": {"datum": "المتوسط المتحرك لسعر النحاس في 200 يوم عند الإغلاق (عقود بورصة لندن للمعادن لمدة 3 أشهر تالية) 8541.03", "type": "nominal",
   "scale": {"domain": ["العقود المستقبلية للنحاس في بورصة لندن للمعادن", "المتوسط المتحرك لسعر النحاس في 200 يوم عند الإغلاق (عقود بورصة لندن للمعادن لمدة 3 أشهر تالية) 8541.03"], "range": ["#000000", "#2E8FEA"]},
   "legend": {"orient": "none", "legendX": 1456, "legendY": -114, "title": null, "direction": "vertical", "symbolType": "square", "symbolSize": 650, "symbolOpacity": 1, "symbolStrokeWidth": 0, "labelFont": "DejaVu Sans", "labelFontSize": 22, "labelColor": "#000000", "labelLimit": 1400, "labelAlign": "right", "labelOffset": -38, "rowPadding": 25, "padding": 0}}
 }},
{"data": {"name": "bb"},
 "mark": {"type": "line", "interpolate": "monotone", "color": "#3A8BE0", "strokeWidth": 1.3},
 "encoding": {
  "x": {"field": "d", "type": "temporal", "scale": {"domain": [{"year": 2022, "month": 1, "date": 1}, {"year": 2023, "month": 8, "date": 18}]},
   "axis": {"orient": "bottom", "values": [{"year":2022,"month":1,"date":1},{"year":2022,"month":4,"date":1},{"year":2022,"month":7,"date":1},{"year":2022,"month":10,"date":1},{"year":2023,"month":1,"date":1},{"year":2023,"month":4,"date":1},{"year":2023,"month":7,"date":1}],
    "labels": false, "ticks": false, "domain": false, "grid": true, "gridDash": [2, 3], "gridColor": "#8c8c8c", "gridWidth": 1,
    "title": "المصدر: بورصة لندن للمعادن", "titleX": 1485, "titleY": 110, "titleAlign": "right", "titleBaseline": "middle", "titleFont": "DejaVu Sans", "titleFontSize": 28, "titleFontWeight": "normal", "titleColor": "#000000"}},
  "y": {"field": "u", "type": "quantitative", "scale": {"domain": [6500, 11230], "nice": false, "zero": false},
   "axis": {"orient": "right", "values": [6750, 7250, 7750, 8250, 8750, 9250, 9750, 10250, 10750], "labels": false, "ticks": true, "tickSize": 6, "tickColor": "#000000", "tickWidth": 1, "domain": false, "grid": false, "title": null}}
 }},
{"data": {"name": "bb"},
 "mark": {"type": "line", "interpolate": "monotone", "color": "#3A8BE0", "strokeWidth": 1.3},
 "encoding": {
  "x": {"field": "d", "type": "temporal", "scale": {"domain": [{"year": 2022, "month": 1, "date": 1}, {"year": 2023, "month": 8, "date": 18}]},
   "axis": {"orient": "bottom", "values": [{"year":2022,"month":3,"date":16},{"year":2022,"month":6,"date":16},{"year":2022,"month":9,"date":16},{"year":2022,"month":12,"date":16},{"year":2023,"month":3,"date":16},{"year":2023,"month":6,"date":16}],
    "labelExpr": "month(datum.value)==2?'مارس':month(datum.value)==5?'يونيو':month(datum.value)==8?'سبتمبر':'ديسمبر'",
    "labelFont": "DejaVu Sans", "labelFontSize": 27, "labelColor": "#000000", "labelPadding": 6, "labelOverlap": false, "labelFlush": false, "labelBaseline": "top",
    "ticks": false, "domain": false, "grid": false, "title": null}},
  "y": {"field": "b", "type": "quantitative", "scale": {"domain": [6500, 11230], "nice": false, "zero": false}, "axis": null}
 }},
{"data": {"name": "bb"},
 "mark": {"type": "line", "interpolate": "monotone", "color": "#EFCB57", "strokeWidth": 1.2},
 "encoding": {
  "x": {"field": "d", "type": "temporal", "scale": {"domain": [{"year": 2022, "month": 1, "date": 1}, {"year": 2023, "month": 8, "date": 18}]},
   "axis": {"orient": "bottom", "values": [{"year":2022,"month":7,"date":2},{"year":2023,"month":4,"date":25}], "format": "%Y",
    "labelFont": "DejaVu Sans", "labelFontSize": 23, "labelColor": "#000000", "labelPadding": 38, "labelOverlap": false, "labelFlush": false, "labelBaseline": "top",
    "ticks": false, "domain": false, "grid": false, "title": null}},
  "y": {"field": "m", "type": "quantitative", "scale": {"domain": [6500, 11230], "nice": false, "zero": false}, "axis": null}
 }},
{"data": {"name": "px"},
 "mark": {"type": "rule", "color": "#111111", "strokeWidth": 0.9},
 "encoding": {
  "x": {"field": "d", "type": "temporal", "scale": {"domain": [{"year": 2022, "month": 1, "date": 1}, {"year": 2023, "month": 8, "date": 18}]},
   "axis": {"orient": "bottom", "values": [{"year":2023,"month":1,"date":1}], "labels": false, "ticks": true, "tickSize": 31, "tickColor": "#999999", "tickWidth": 1, "offset": 35, "domain": false, "grid": false, "title": null}},
  "y": {"field": "l", "type": "quantitative", "scale": {"domain": [6500, 11230], "nice": false, "zero": false}, "axis": null},
  "y2": {"field": "h"}
 }},
{"data": {"name": "px"},
 "mark": {"type": "bar", "width": 2.2, "stroke": "#000000", "strokeWidth": 0.6},
 "encoding": {
  "x": {"field": "d", "type": "temporal", "scale": {"domain": [{"year": 2022, "month": 1, "date": 1}, {"year": 2023, "month": 8, "date": 18}]}, "axis": null},
  "y": {"field": "o", "type": "quantitative", "scale": {"domain": [6500, 11230], "nice": false, "zero": false}, "axis": null},
  "y2": {"field": "c"},
  "fill": {"condition": {"test": "datum.c < datum.o", "value": "#000000"}, "value": "#ffffff"}
 }},
{"data": {"values": [{"v": 6500}, {"v": 7000}, {"v": 7500}, {"v": 8000}, {"v": 8500}, {"v": 9000}, {"v": 9500}, {"v": 10000}, {"v": 10500}, {"v": 11000}]},
 "mark": {"type": "point", "shape": "triangle-right", "size": 45, "filled": true, "color": "#000000", "opacity": 1, "xOffset": 4},
 "encoding": {
  "x": {"datum": {"year": 2023, "month": 8, "date": 18}, "type": "temporal", "scale": {"domain": [{"year": 2022, "month": 1, "date": 1}, {"year": 2023, "month": 8, "date": 18}]}, "axis": null},
  "y": {"field": "v", "type": "quantitative", "scale": {"domain": [6500, 11230], "nice": false, "zero": false}, "axis": null}
 }}
]
}
